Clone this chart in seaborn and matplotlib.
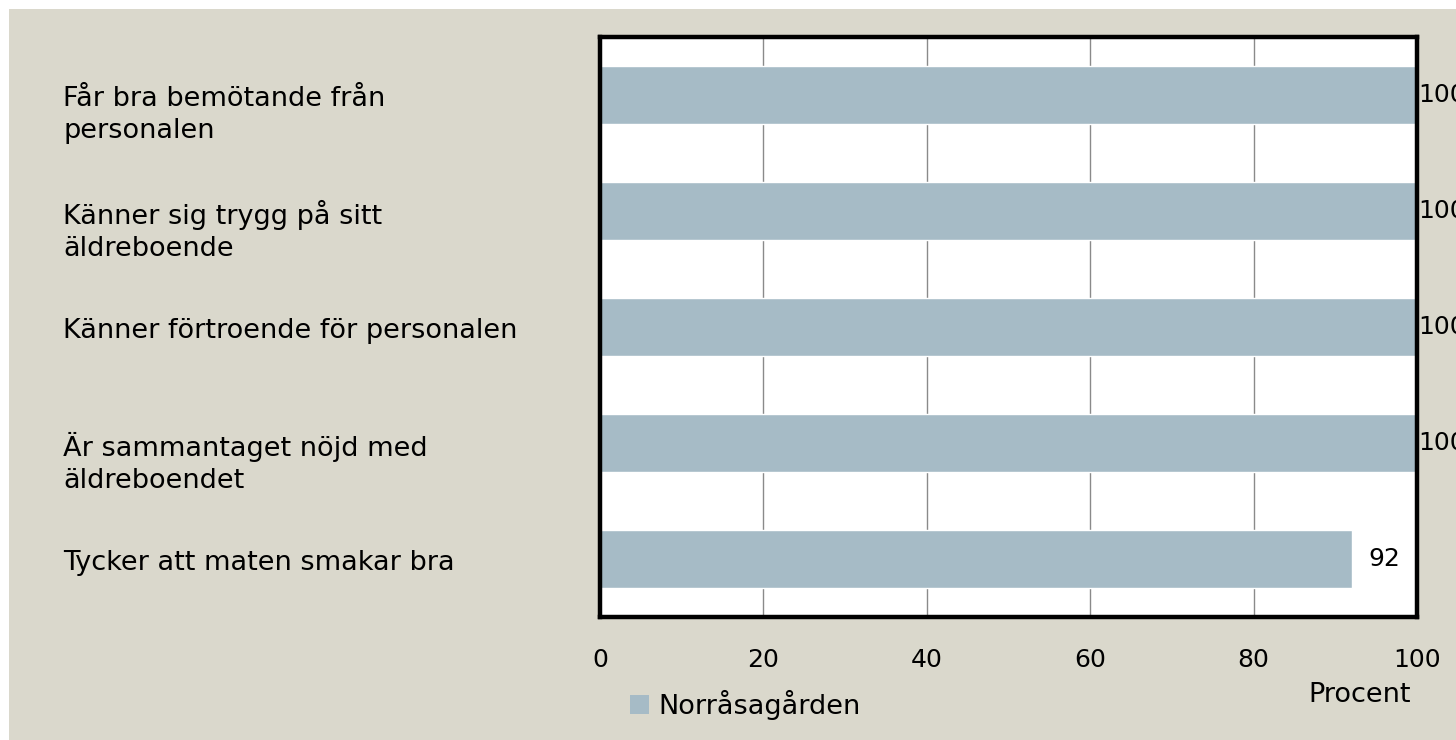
import matplotlib
matplotlib.use("Agg")
import matplotlib.pyplot as plt
import matplotlib.transforms as mtransforms
from matplotlib.patches import Patch, Rectangle
import seaborn as sns
import pandas as pd

categories = [
    "Får bra bemötande från\npersonalen",
    "Känner sig trygg på sitt\näldreboende",
    "Känner förtroende för personalen",
    "Är sammantaget nöjd med\näldreboendet",
    "Tycker att maten smakar bra",
]
values = [100, 100, 100, 100, 92]
series_name = "Norråsagården"
xticks = [0, 20, 40, 60, 80, 100]
xlabel = "Procent"

BG = "#DAD8CC"
BAR = "#A6BBC6"
FS = 18
FSL = 19.5

sns.set_theme(style="white")
plt.rcParams["font.family"] = ["DejaVu Sans"]

fig = plt.figure(figsize=(14.56, 7.4), dpi=100, facecolor="white")
fig.patches.append(Rectangle((9 / 1456, 0), 1, 1 - 9 / 740, transform=fig.transFigure,
                             facecolor=BG, edgecolor="none", zorder=-10))
ax = fig.add_axes([600 / 1456, 1 - 617 / 740, 817 / 1456, 580 / 740])
ax.set_facecolor("white")

df = pd.DataFrame({"cat": categories, "val": values})
sns.barplot(data=df, x="val", y="cat", orient="h", color=BAR, width=0.5,
            saturation=1, ax=ax, zorder=3)

ax.set_xlim(0, 100)
ax.set_ylim(4.5, -0.5)
ax.set_xticks(xticks)
ax.set_xticklabels([str(t) for t in xticks], fontsize=FS, color="black")
ax.tick_params(axis="x", length=0, pad=22)
ax.set_yticks([])
ax.set_ylabel("")
ax.set_xlabel("")
ax.grid(axis="x", color="#8a8a8a", linewidth=1.0, zorder=0)
for s in ax.spines.values():
    s.set_visible(True)
    s.set_color("black")
    s.set_linewidth(3.2)
    s.set_zorder(5)

# category labels
trans = mtransforms.blended_transform_factory(fig.transFigure, ax.transData)
for i, c in enumerate(categories):
    nl = c.count("\n")
    t = mtransforms.offset_copy(trans, fig=fig, x=0, y=-(4 + 16 * nl), units="dots")
    ax.text(63 / 1456, i, c, transform=t, ha="left", va="center",
            fontsize=FSL, color="black", linespacing=1.3, clip_on=False)

# data labels
for i, v in enumerate(values):
    pad = 1 if v >= 100 else 17
    t = mtransforms.offset_copy(ax.transData, fig=fig, x=pad, y=0, units="dots")
    ax.text(v, i, str(v), transform=t, ha="left", va="center",
            fontsize=FS, color="black", clip_on=False, zorder=6)

ax.text(0.93, -0.134, xlabel, transform=ax.transAxes, ha="center", va="center",
        fontsize=FSL, color="black")

leg = ax.legend(handles=[Patch(facecolor=BAR, edgecolor="none", label=series_name)],
                loc="center left", bbox_to_anchor=(0.037, -0.152), frameon=False,
                handlelength=0.7, handleheight=0.7, handletextpad=0.35,
                borderpad=0, borderaxespad=0, fontsize=FSL)
for txt in leg.get_texts():
    txt.set_color("black")

fig.savefig("out.png", dpi=100, facecolor=fig.get_facecolor())
